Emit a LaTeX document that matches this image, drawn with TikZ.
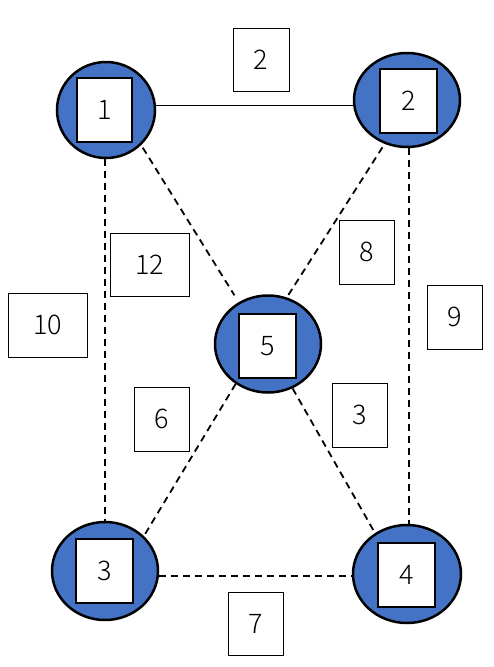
\documentclass[tikz,border=0pt]{standalone}
\usepackage{fontspec}
\setmainfont{Noto Sans CJK SC}[UprightFont={* Light}]
\usetikzlibrary{shapes.geometric}
\definecolor{nodeblue}{HTML}{4472C4}
\tikzset{
  vert/.style={ellipse, draw=black, line width=2.5pt, fill=nodeblue, inner sep=0pt},
  inbox/.style={rectangle, draw=black, line width=1.3pt, fill=white, inner sep=0pt, font=\fontsize{27}{27}\selectfont},
  wbox/.style={rectangle, draw=black, line width=0.9pt, fill=white, inner sep=0pt, font=\fontsize{27}{27}\selectfont},
  edge/.style={line width=1.3pt, draw=black},
  dedge/.style={draw=black, line width=1.8pt, dash pattern=on 7pt off 5pt},
}
\begin{document}
\begin{tikzpicture}[x=1pt,y=-1pt]
\useasboundingbox (0,0) rectangle (494,667);
% vertices
\node[vert, minimum width=98pt, minimum height=96pt] (n1) at (106,110) {};
\node[vert, minimum width=106pt, minimum height=94pt] (n2) at (407,100) {};
\node[vert, minimum width=106pt, minimum height=97pt] (n5) at (268,344) {};
\node[vert, minimum width=106pt, minimum height=98pt] (n3) at (105,571) {};
\node[vert, minimum width=108pt, minimum height=98pt] (n4) at (407,574) {};
% inner labels
\node[inbox, minimum width=55pt, minimum height=64pt] (b1) at (104.5,110) {1};
\node[inbox, minimum width=57pt, minimum height=64pt] (b2) at (408.5,101) {2};
\node[inbox, minimum width=57pt, minimum height=64pt] (b5) at (267.5,346) {5};
\node[inbox, minimum width=57pt, minimum height=64pt] (b3) at (104.5,571) {3};
\node[inbox, minimum width=57pt, minimum height=64pt] (b4) at (406.5,575) {4};
% edges
\draw[edge] (n1.5) -- (n1.5 -| n2.west);
\draw[dedge] ([xshift=-1pt]n1.south) -- (n3.north);
\draw[dedge] ([xshift=2pt]n2.south) -- ([xshift=2pt]n4.north);
\draw[dedge, shorten <=3pt, shorten >=8pt] (n1.-45) -- (n5.125);
\draw[dedge, shorten <=4pt] (n2.-117) -- (n5.68);
\draw[dedge] (n5.-129) -- (n3.42);
\draw[dedge] (n5.-61) -- (n4.128);
\draw[dedge] ([yshift=-5pt]n3.east) -- ([yshift=-5pt]n3.east -| n4.west);
% weight labels
\node[wbox, minimum width=56pt, minimum height=63pt] (w12) at (261,59.5) {2};
\node[wbox, minimum width=79pt, minimum height=63pt] (w15) at (149.5,264.5) {12};
\node[wbox, minimum width=79pt, minimum height=64pt] (w13) at (47.5,325) {10};
\node[wbox, minimum width=55pt, minimum height=64pt] (w25) at (366.5,252) {8};
\node[wbox, minimum width=55pt, minimum height=64pt] (w24) at (454.5,317) {9};
\node[wbox, minimum width=55pt, minimum height=64pt] (w53) at (161.5,419) {6};
\node[wbox, minimum width=55pt, minimum height=64pt] (w54) at (359.5,415) {3};
\node[wbox, minimum width=55pt, minimum height=63pt] (w34) at (255.5,623.5) {7};
\end{tikzpicture}
\end{document}
